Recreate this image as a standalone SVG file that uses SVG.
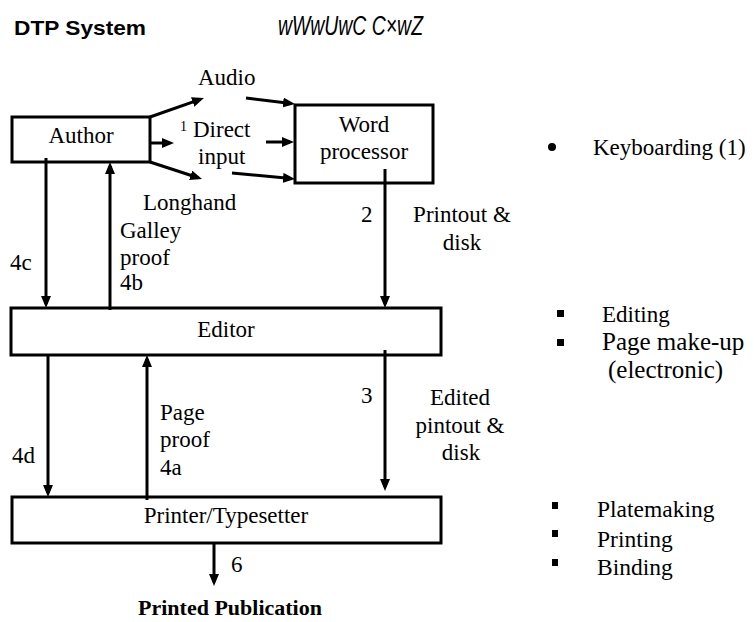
<svg xmlns="http://www.w3.org/2000/svg" width="754" height="622" viewBox="0 0 754 622">
<defs>
<marker id="ah" viewBox="0 0 12 10" markerWidth="12" markerHeight="10" refX="8" refY="5" markerUnits="userSpaceOnUse" orient="auto">
<path d="M0,0 L12,5 L0,10 z" fill="#000"/>
</marker>
<style>
.box{fill:none;stroke:#000;stroke-width:3}
.t{font-family:"Liberation Serif","Tinos","Times New Roman",Times,"DejaVu Serif",serif;font-size:23px;fill:#000}
.m{text-anchor:middle}
.c{fill:none;stroke:#000;stroke-width:3;marker-end:url(#ah)}
</style>
</defs>
<rect width="754" height="622" fill="#fff"/>
<g id="title">
<text x="14" y="35" font-family="Liberation Sans, Arial, sans-serif" font-weight="bold" font-size="20.5" textLength="132" lengthAdjust="spacingAndGlyphs">DTP System</text>
<text x="278" y="35" font-family="Liberation Sans, Arial, sans-serif" font-style="italic" font-size="27" textLength="145" lengthAdjust="spacingAndGlyphs">wWwUwC C×wZ</text>
</g>
<g id="connectors">
<line class="c" x1="150" y1="117" x2="200.2" y2="99.3"/>
<line class="c" x1="150" y1="143" x2="170" y2="143"/>
<line class="c" x1="150" y1="162" x2="198.2" y2="177.8"/>
<line class="c" x1="246" y1="98" x2="291" y2="103.5"/>
<line class="c" x1="266" y1="142" x2="290" y2="142"/>
<line class="c" x1="232" y1="173" x2="291" y2="178.6"/>
<line class="c" x1="46" y1="158" x2="46" y2="304"/>
<line class="c" x1="110" y1="310" x2="110" y2="166"/>
<line class="c" x1="385" y1="169" x2="385" y2="304"/>
<line class="c" x1="48" y1="355" x2="48" y2="493"/>
<line class="c" x1="147" y1="500" x2="147" y2="359"/>
<line class="c" x1="385" y1="350" x2="385" y2="487"/>
<line class="c" x1="214" y1="543" x2="214" y2="582"/>
</g>
<g id="author">
<rect class="box" x="12" y="117" width="138" height="45"/>
<text class="t m" x="81" y="143">Author</text>
</g>
<g id="word-processor">
<rect class="box" x="295" y="105" width="138" height="78"/>
<text class="t m" x="364" y="132">Word</text>
<text class="t m" x="364" y="159">processor</text>
</g>
<g id="editor">
<rect class="box" x="11" y="308" width="430" height="47"/>
<text class="t m" x="226" y="337">Editor</text>
</g>
<g id="printer">
<rect class="box" x="12" y="497" width="429" height="46"/>
<text class="t m" x="226" y="523">Printer/Typesetter</text>
</g>
<g id="labels">
<text class="t" x="198" y="85">Audio</text>
<text class="t" x="180" y="131" style="font-size:14px">1</text>
<text class="t" x="193" y="137">Direct</text>
<text class="t" x="198" y="164">input</text>
<text class="t" x="143" y="210">Longhand</text>
<text class="t" x="120" y="238">Galley</text>
<text class="t" x="120" y="265">proof</text>
<text class="t" x="120" y="290">4b</text>
<text class="t" x="10" y="270">4c</text>
<text class="t" x="361" y="222">2</text>
<text class="t m" x="462" y="222">Printout &amp;</text>
<text class="t m" x="462" y="250">disk</text>
<text class="t" x="12" y="463">4d</text>
<text class="t" x="160" y="420">Page</text>
<text class="t" x="160" y="447">proof</text>
<text class="t" x="160" y="475">4a</text>
<text class="t" x="361" y="403">3</text>
<text class="t m" x="460" y="405">Edited</text>
<text class="t m" x="460" y="433">pintout &amp;</text>
<text class="t m" x="461" y="460">disk</text>
<text class="t" x="231" y="572">6</text>
<text class="t m" x="230" y="615" style="font-size:22px;font-weight:bold">Printed Publication</text>
</g>
<g id="notes">
<circle cx="552" cy="147" r="4"/>
<text class="t" x="593" y="155">Keyboarding (1)</text>
<rect x="557" y="310" width="7" height="7"/>
<text class="t" x="602" y="322">Editing</text>
<rect x="557" y="339" width="7" height="7"/>
<text class="t" x="602" y="350" style="font-size:25px">Page make-up</text>
<text class="t" x="608" y="378" style="font-size:25px">(electronic)</text>
<rect x="552" y="502" width="6" height="7"/>
<text class="t" x="597" y="517" style="font-size:23.5px">Platemaking</text>
<rect x="552" y="530" width="6" height="7"/>
<text class="t" x="597" y="547" style="font-size:23.5px">Printing</text>
<rect x="552" y="559" width="6" height="7"/>
<text class="t" x="597" y="575" style="font-size:23.5px">Binding</text>
</g>
</svg>
